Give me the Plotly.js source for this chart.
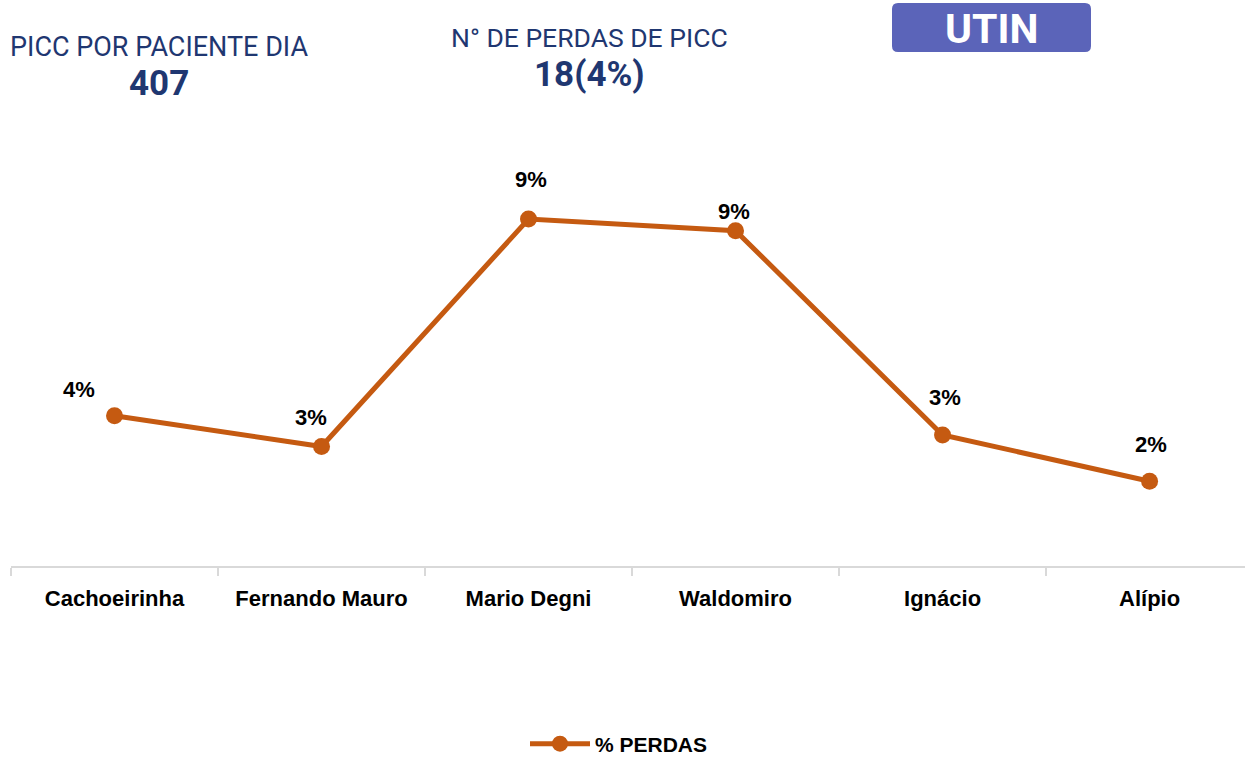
<!DOCTYPE html>
<html>
<head>
<meta charset="utf-8">
<script src="https://cdn.plot.ly/plotly-3.0.1.min.js"></script>
<style>
  html, body { margin: 0; padding: 0; background: #ffffff; }
  #chart { width: 1245px; height: 757px; }
</style>
</head>
<body>
<div id="chart"></div>
<script>
// ---- data ----
const categories = ["Cachoeirinha", "Fernando Mauro", "Mario Degni", "Waldomiro", "Ignácio", "Alípio"];
const perdas = [0.039, 0.031, 0.090, 0.087, 0.034, 0.022];
const seriesName = "% PERDAS";
const kpiLeftLabel = "PICC POR PACIENTE DIA";
const kpiLeftValue = "407";
const kpiMidLabel = "N° DE PERDAS DE PICC";
const kpiMidValue = "18(4%)";
const badgeText = "UTIN";

// ---- styling (label offsets in px) ----
const labelShift = [[-36, 26], [-11, 29], [2, 40], [-2, 19], [2, 37], [1, 37]];
const orange = "#c55a11";
const navy = "#1f3771";
const labelFont = {family: "Liberation Sans, Arial, sans-serif", size: 22, color: "#000000"};

const trace = {
  type: "scatter",
  mode: "lines+markers",
  x: categories,
  y: perdas,
  name: seriesName,
  line: {color: orange, width: 5},
  marker: {color: orange, size: 17},
  hoverinfo: "skip"
};

const annotations = categories.map((c, i) => ({
  x: c, y: perdas[i], xref: "x", yref: "y",
  text: "<b>" + Math.round(perdas[i] * 100) + "%</b>",
  showarrow: false,
  xshift: labelShift[i][0], yshift: labelShift[i][1],
  font: labelFont
}));

const extra = [
  {text: kpiLeftLabel, cx: 159, cy: 47, size: 27, bold: false},
  {text: kpiLeftValue, cx: 159, cy: 84, size: 35, bold: true},
  {text: kpiMidLabel, cx: 589, cy: 38, size: 26.5, bold: false},
  {text: kpiMidValue, cx: 589, cy: 75, size: 35, bold: true}
];

const W = 1245, H = 757;
const margin = {l: 11, r: 0, t: 100, b: 191, autoexpand: false};
const pw = W - margin.l - margin.r, ph = H - margin.t - margin.b;
const PX = px => (px - margin.l) / pw;
const PY = py => 1 - (py - margin.t) / ph;

extra.forEach(e => {
  annotations.push({
    xref: "paper", yref: "paper",
    x: PX(e.cx), y: PY(e.cy), showarrow: false,
    text: e.bold ? "<b>" + e.text + "</b>" : e.text,
    font: {family: "Roboto, sans-serif", size: e.size, color: navy},
    xanchor: "center", yanchor: "middle"
  });
});

// badge
const bx0 = 892, bx1 = 1091, by0 = 3, by1 = 52;
annotations.push({
  xref: "paper", yref: "paper",
  x: PX((bx0 + bx1) / 2),
  y: PY((by0 + by1) / 2 + 1),
  text: "<b>" + badgeText + "</b>", showarrow: false,
  xanchor: "center", yanchor: "middle",
  font: {family: "Roboto, sans-serif", size: 41, color: "#ffffff"}
});

const r = 6;
const shapes = [{
  type: "path", xref: "paper", yref: "paper", layer: "below",
  path: "M " + PX(bx0 + r) + "," + PY(by0) +
    " L " + PX(bx1 - r) + "," + PY(by0) +
    " Q " + PX(bx1) + "," + PY(by0) + " " + PX(bx1) + "," + PY(by0 + r) +
    " L " + PX(bx1) + "," + PY(by1 - r) +
    " Q " + PX(bx1) + "," + PY(by1) + " " + PX(bx1 - r) + "," + PY(by1) +
    " L " + PX(bx0 + r) + "," + PY(by1) +
    " Q " + PX(bx0) + "," + PY(by1) + " " + PX(bx0) + "," + PY(by1 - r) +
    " L " + PX(bx0) + "," + PY(by0 + r) +
    " Q " + PX(bx0) + "," + PY(by0) + " " + PX(bx0 + r) + "," + PY(by0) + " Z",
  fillcolor: "#5b64b9", line: {width: 0}
}];

const layout = {
  width: W, height: H,
  margin: margin,
  paper_bgcolor: "#ffffff", plot_bgcolor: "#ffffff",
  showlegend: true,
  legend: {
    orientation: "h", x: PX(619), xanchor: "center", y: PY(744), yanchor: "middle",
    font: {family: "Liberation Sans, Arial, sans-serif", size: 21, color: "#000000", weight: "bold"},
    itemwidth: 60, tracegroupgap: 0
  },
  xaxis: {
    type: "category",
    range: [-0.5, 5.461],
    showgrid: false, zeroline: false,
    showline: true, linecolor: "#d9d9d9", linewidth: 1.5,
    ticks: "outside", tickson: "boundaries", ticklen: 8, tickcolor: "#d9d9d9", tickwidth: 1.5,
    tickfont: {family: "Liberation Sans, Arial, sans-serif", size: 22, color: "#000000", weight: "bold"},
    ticklabelstandoff: 12,
    fixedrange: true
  },
  yaxis: {
    range: [0, 0.1209],
    visible: false, showgrid: false, zeroline: false, fixedrange: true
  },
  annotations: annotations,
  shapes: shapes
};

Plotly.newPlot("chart", [trace], layout, {displayModeBar: false, staticPlot: true});
</script>
</body>
</html>
